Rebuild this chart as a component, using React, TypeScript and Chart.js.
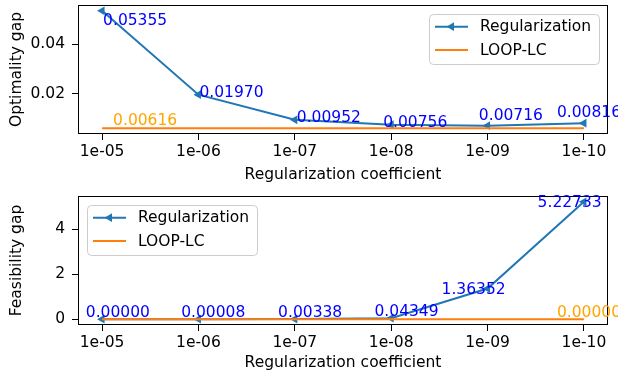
import React, { useEffect, useRef } from 'react';
import { Chart, registerables } from 'chart.js';

Chart.register(...registerables);

// ---------- data ----------
const coefficientLabels = ['1e-05', '1e-06', '1e-07', '1e-08', '1e-09', '1e-10'];
const optimalityRegularization = [0.05355, 0.0197, 0.00952, 0.00756, 0.00716, 0.00816];
const optimalityLoopLC = [0.00616, 0.00616, 0.00616, 0.00616, 0.00616, 0.00616];
const feasibilityRegularization = [0.0, 0.00008, 0.00338, 0.04349, 1.36352, 5.22733];
const feasibilityLoopLC = [0.0, 0.0, 0.0, 0.0, 0.0, 0.0];
const optimalityTicks = [0.02, 0.04];
const feasibilityTicks = [0, 2, 4];
const seriesNames = ['Regularization', 'LOOP-LC'];

// ---------- style ----------
const FONT = "'DejaVu Sans', sans-serif";
const FS = 15.5;
const BLUE = '#1f77b4';
const ORANGE = '#ff7f0e';
const LABEL_BLUE = '#0000ff';
const LABEL_ORANGE = '#ffa500';

// label offsets (px) relative to each point: [dx, dy to baseline]
const topRegOffsets = [[1, 14], [1, 2], [2, 2], [-8, 2.6], [-8.7, -5.7], [-27, -6.5]];
const topLoopLabel = { index: 0, dx: 11, dy: -3 };
const bottomRegOffsets = [[-16.3, -2.4], [-17.3, -2.4], [-16.7, -2.4], [-16.7, -2.4], [-46, 5.5], [-46.3, 4.8]];
const bottomLoopLabel = { index: 5, dx: -27, dy: -1.8 };

type PanelSpec = {
  reg: number[];
  loop: number[];
  yTicks: number[];
  yFmt: (v: number) => string;
  yTitle: string;
  legendSide: 'left' | 'right';
  regOffsets: number[][];
  loopLabel: { index: number; dx: number; dy: number };
  padTop: number;
  xAxisHeight: number;
};

const framePlugin = {
  id: 'frame',
  afterDraw(chart: any) {
    const { ctx, chartArea: a } = chart;
    ctx.save();
    ctx.strokeStyle = '#000';
    ctx.lineWidth = 1;
    const l = Math.round(a.left) + 0.5;
    const r = Math.round(a.right) - 0.5;
    const t = Math.round(a.top) + 0.5;
    const b = Math.round(a.bottom) - 0.5;
    ctx.strokeRect(l, t, r - l, b - t);
    ctx.restore();
  },
};

function drawLeftTriangle(ctx: CanvasRenderingContext2D, x: number, y: number, r: number, color: string) {
  ctx.beginPath();
  let rad = -Math.PI / 2;
  for (let k = 0; k < 3; k++) {
    const px = x + Math.sin(rad) * r;
    const py = y - Math.cos(rad) * r;
    if (k === 0) ctx.moveTo(px, py);
    else ctx.lineTo(px, py);
    rad += (2 * Math.PI) / 3;
  }
  ctx.closePath();
  ctx.fillStyle = color;
  ctx.fill();
}

const legendPlugin = {
  id: 'mplLegend',
  afterDraw(chart: any) {
    const opts = chart.options.plugins.mplLegend;
    if (!opts) return;
    const { ctx, chartArea: a } = chart;
    const w = 170;
    const h = 50;
    const x0 = opts.side === 'right' ? a.right - 9 - w : a.left + 9;
    const y0 = a.top + 9;
    ctx.save();
    ctx.beginPath();
    (ctx as any).roundRect(x0 + 0.5, y0 + 0.5, w, h, 4);
    ctx.fillStyle = 'rgba(255,255,255,0.8)';
    ctx.fill();
    ctx.strokeStyle = '#cccccc';
    ctx.lineWidth = 1;
    ctx.stroke();
    chart.data.datasets.forEach((ds: any, i: number) => {
      const rowY = y0 + 12.7 + i * 23.3;
      ctx.beginPath();
      ctx.moveTo(x0 + 6, rowY);
      ctx.lineTo(x0 + 39, rowY);
      ctx.strokeStyle = ds.borderColor;
      ctx.lineWidth = 2;
      ctx.stroke();
      if (ds.pointRadius > 0) drawLeftTriangle(ctx, x0 + 22.5, rowY, ds.pointRadius, ds.borderColor);
      ctx.fillStyle = '#000';
      ctx.font = `${FS}px ${FONT}`;
      ctx.textBaseline = 'middle';
      ctx.textAlign = 'left';
      ctx.fillText(ds.label, x0 + 51, rowY + 0.5);
    });
    ctx.restore();
  },
};

const valueLabelPlugin = {
  id: 'valueLabels',
  afterDraw(chart: any) {
    const opts = chart.options.plugins.valueLabels;
    if (!opts) return;
    const { ctx } = chart;
    ctx.save();
    ctx.font = `${FS}px ${FONT}`;
    ctx.textBaseline = 'alphabetic';
    ctx.textAlign = 'left';
    opts.items.forEach((it: any) => {
      const meta = chart.getDatasetMeta(it.dataset);
      const el = meta.data[it.index];
      const v = chart.data.datasets[it.dataset].data[it.index].y;
      ctx.fillStyle = it.color;
      ctx.fillText(v.toFixed(5), el.x + it.dx, el.y + it.dy);
    });
    ctx.restore();
  },
};

function makeConfig(p: PanelSpec): any {
  const all = [...p.reg, ...p.loop];
  const lo = Math.min(...all);
  const hi = Math.max(...all);
  const m = (hi - lo) * 0.05;
  const labelItems: any[] = p.reg.map((_, i) => ({
    dataset: 0,
    index: i,
    color: LABEL_BLUE,
    dx: p.regOffsets[i][0],
    dy: p.regOffsets[i][1],
  }));
  labelItems.push({ dataset: 1, index: p.loopLabel.index, color: LABEL_ORANGE, dx: p.loopLabel.dx, dy: p.loopLabel.dy });
  const gridCommon = {
    display: true,
    drawOnChartArea: false,
    drawTicks: true,
    tickLength: 6,
    color: '#000',
    lineWidth: 1,
  };
  return {
    type: 'line',
    data: {
      datasets: [
        {
          label: seriesNames[0],
          data: p.reg.map((y, i) => ({ x: i, y })),
          borderColor: BLUE,
          backgroundColor: BLUE,
          borderWidth: 2,
          pointStyle: 'triangle',
          rotation: -90,
          pointRadius: 5,
          pointBorderWidth: 0,
          order: 1,
        },
        {
          label: seriesNames[1],
          data: p.loop.map((y, i) => ({ x: i, y })),
          borderColor: ORANGE,
          backgroundColor: ORANGE,
          borderWidth: 2,
          pointRadius: 0,
          order: 0,
        },
      ],
    },
    options: {
      animation: false,
      responsive: false,
      devicePixelRatio: 1,
      layout: { padding: { left: 0, right: 10, top: p.padTop, bottom: 0 } },
      plugins: {
        legend: { display: false },
        tooltip: { enabled: false },
        mplLegend: { side: p.legendSide },
        valueLabels: { items: labelItems },
      },
      scales: {
        x: {
          type: 'linear',
          min: -0.25,
          max: coefficientLabels.length - 1 + 0.25,
          afterBuildTicks: (axis: any) => {
            axis.ticks = coefficientLabels.map((_, i) => ({ value: i }));
          },
          afterFit: (s: any) => {
            s.height = p.xAxisHeight;
            s.paddingLeft = 0;
            s.paddingRight = 0;
          },
          ticks: {
            color: '#000',
            font: { family: FONT, size: FS },
            padding: 3,
            maxRotation: 0,
            autoSkip: false,
            callback: (v: number) => coefficientLabels[Math.round(v)] ?? '',
          },
          grid: gridCommon,
          border: { display: false },
          title: {
            display: true,
            text: 'Regularization coefficient',
            color: '#000',
            font: { family: FONT, size: FS },
            padding: { top: 4, bottom: 4 },
          },
        },
        y: {
          type: 'linear',
          min: lo - m,
          max: hi + m,
          afterBuildTicks: (axis: any) => {
            axis.ticks = p.yTicks.map((v) => ({ value: v }));
          },
          afterFit: (s: any) => {
            s.width = 78;
            s.paddingTop = 0;
            s.paddingBottom = 0;
          },
          ticks: {
            color: '#000',
            font: { family: FONT, size: FS },
            padding: 7,
            callback: (v: number) => p.yFmt(v),
          },
          grid: gridCommon,
          border: { display: false },
          title: {
            display: true,
            text: p.yTitle,
            color: '#000',
            font: { family: FONT, size: FS },
            padding: { top: 8, bottom: 4 },
          },
        },
      },
    },
    plugins: [framePlugin, legendPlugin, valueLabelPlugin],
  };
}

const topSpec: PanelSpec = {
  reg: optimalityRegularization,
  loop: optimalityLoopLC,
  yTicks: optimalityTicks,
  yFmt: (v) => v.toFixed(2),
  yTitle: 'Optimality gap',
  legendSide: 'right',
  regOffsets: topRegOffsets,
  loopLabel: topLoopLabel,
  padTop: 5,
  xAxisHeight: 54,
};

const bottomSpec: PanelSpec = {
  reg: feasibilityRegularization,
  loop: feasibilityLoopLC,
  yTicks: feasibilityTicks,
  yFmt: (v) => String(v),
  yTitle: 'Feasibility gap',
  legendSide: 'left',
  regOffsets: bottomRegOffsets,
  loopLabel: bottomLoopLabel,
  padTop: 8,
  xAxisHeight: 51,
};

export default function App() {
  const topRef = useRef<HTMLCanvasElement | null>(null);
  const botRef = useRef<HTMLCanvasElement | null>(null);

  useEffect(() => {
    const c1 = new Chart(topRef.current as HTMLCanvasElement, makeConfig(topSpec));
    const c2 = new Chart(botRef.current as HTMLCanvasElement, makeConfig(bottomSpec));
    return () => {
      c1.destroy();
      c2.destroy();
    };
  }, []);

  return (
    <div style={{ position: 'absolute', left: 0, top: 0, width: 618, height: 377, background: '#fff' }}>
      <canvas ref={topRef} width={618} height={188} style={{ position: 'absolute', left: 0, top: 0, width: 618, height: 188 }} />
      <canvas ref={botRef} width={618} height={188} style={{ position: 'absolute', left: 0, top: 188, width: 618, height: 188 }} />
    </div>
  );
}
